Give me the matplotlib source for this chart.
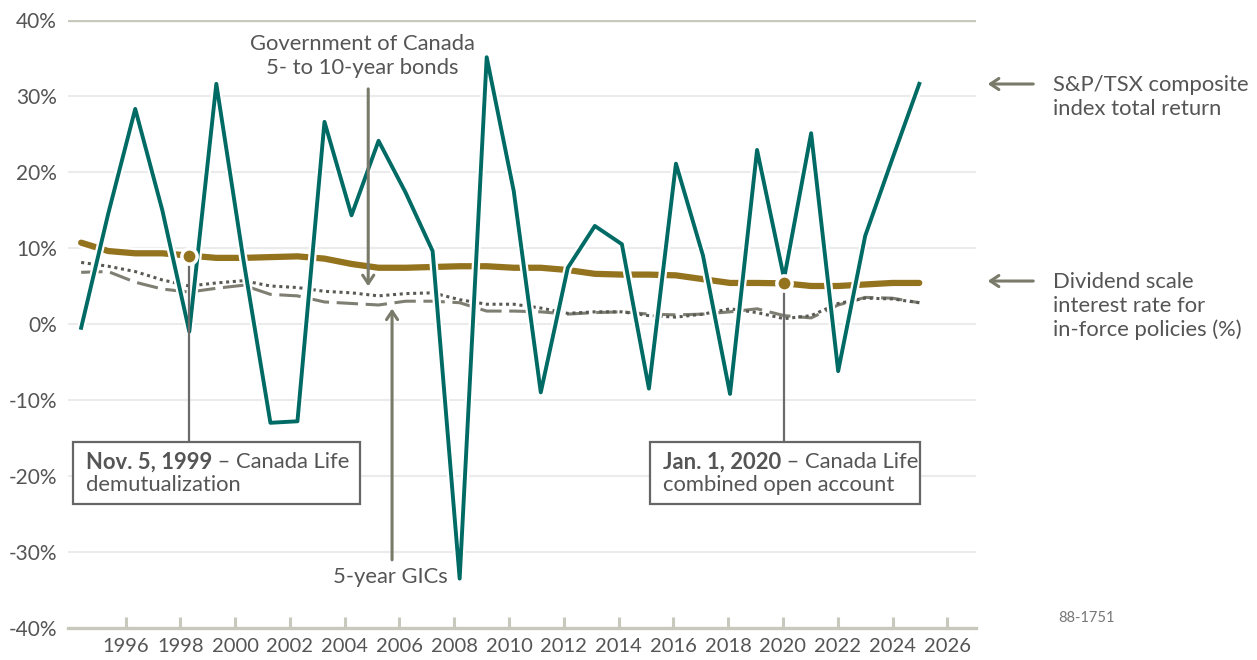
import matplotlib.pyplot as plt
import matplotlib.patheffects as pe
from matplotlib.patches import Rectangle
import numpy as np

years = np.arange(1994, 2026)

tsx_return = [-0.5, 14.5, 28.3, 15.0, -1.0, 31.6, 8.5, -13.0, -12.8, 26.6,
              14.3, 24.1, 17.3, 9.6, -33.5, 35.1, 17.5, -9.0, 7.4, 12.9,
              10.5, -8.5, 21.1, 9.0, -9.2, 22.9, 6.0, 25.1, -6.2, 11.6,
              21.7, 31.6]
dividend_rate = [10.7, 9.6, 9.3, 9.3, 9.0, 8.7, 8.7, 8.8, 8.9, 8.6,
                 7.9, 7.4, 7.4, 7.5, 7.6, 7.6, 7.4, 7.4, 7.1, 6.6,
                 6.5, 6.5, 6.4, 5.9, 5.4, 5.4, 5.35, 5.0, 5.0, 5.2,
                 5.4, 5.4]
bond_yield = [8.1, 7.6, 6.9, 5.8, 5.0, 5.4, 5.7, 5.0, 4.8, 4.3,
              4.1, 3.7, 4.0, 4.1, 3.2, 2.6, 2.6, 2.1, 1.4, 1.6,
              1.6, 1.1, 0.9, 1.3, 2.0, 1.5, 0.7, 1.1, 2.7, 3.4,
              3.3, 2.8]
gic_rate = [6.8, 6.9, 5.5, 4.6, 4.2, 4.7, 5.1, 3.9, 3.7, 2.9,
            2.7, 2.5, 3.0, 3.0, 2.8, 1.7, 1.7, 1.6, 1.3, 1.5,
            1.6, 1.3, 1.2, 1.3, 1.6, 2.0, 1.1, 0.8, 2.5, 3.5,
            3.4, 2.8]

x_ticks = list(range(1996, 2027, 2))
y_ticks = list(range(-40, 41, 10))

# events marked on the dividend line (index into years)
event_idx = [4, 26]

TEAL = '#006a64'
GOLD = '#94731f'
TEXT = '#555555'
ARROW = '#7a7a6a'
AXIS = '#c9c8bd'
GRID = '#ebebeb'
FS = 15.8

plt.rcParams['font.family'] = ['Lato', 'DejaVu Sans']

fig = plt.figure(figsize=(12.57, 6.6), dpi=100)
ax = fig.add_axes([0.0541, 0.0485, 0.7224, 0.9212])

# chart positions of the yearly points
xpos = 1994.38 + 0.987 * (years - 1994)

for y in y_ticks[1:-1]:
    ax.axhline(y, color=GRID, lw=1.5, zorder=0)
ax.axhline(40, color=AXIS, lw=2.4, zorder=0)

white = [pe.Stroke(linewidth=6, foreground='white'), pe.Normal()]

ax.plot(xpos, gic_rate, color='#7f7e72', lw=2.2, dashes=(7, 2.5), zorder=2)
ax.plot(xpos, bond_yield, color='#5a5a55', lw=2.2, dashes=(1, 1.2), zorder=2)
ax.plot(xpos, dividend_rate, color=GOLD, lw=4.5, solid_capstyle='round', zorder=3,
        path_effects=[pe.Stroke(linewidth=8, foreground='white'), pe.Normal()])
ax.plot(xpos, tsx_return, color=TEAL, lw=2.8, zorder=4, path_effects=white)

# event markers and boxes
box_left = [1994.09, 2015.15]
box_width = [10.47, 9.85]
box_top, box_bottom = -15.5, -23.7
bold_txt = ['Nov. 5, 1999', 'Jan. 1, 2020']
rest_txt = [' \u2013 Canada Life', ' \u2013 Canada Life']
line2_txt = ['demutualization', 'combined open account']

for i, k in enumerate(event_idx):
    xe, ye = xpos[k], dividend_rate[k]
    ax.plot([xe, xe], [ye, box_top], color='#6b6b6b', lw=1.6, zorder=5)
    ax.plot(xe, ye, 'o', ms=11, color=GOLD, mec='white', mew=2.5, zorder=6)
    ax.add_patch(Rectangle((box_left[i], box_bottom), box_width[i], box_top - box_bottom,
                           fc='white', ec='#666666', lw=1.6, zorder=5))
    tx = box_left[i] + 0.47
    t = ax.text(tx, -18.2, bold_txt[i], fontsize=FS, fontweight='bold',
                color=TEXT, va='center', ha='left', zorder=6)
    ax.annotate(rest_txt[i], xy=(1, 0.5), xycoords=t, va='center', ha='left',
                fontsize=FS, color=TEXT, zorder=6)
    ax.text(tx, -21.2, line2_txt[i], fontsize=FS, color=TEXT,
            va='center', ha='left', zorder=6)

# series labels inside the plot
arrow_style = dict(arrowstyle='->,head_length=0.6,head_width=0.4', color=ARROW, lw=2.2)
ax.annotate('', xy=(2004.86, 4.6), xytext=(2004.86, 31.3), arrowprops=arrow_style, zorder=5)
ax.text(2004.64, 35.2, 'Government of Canada\n5- to 10-year bonds', fontsize=FS,
        color=TEXT, ha='center', va='center', linespacing=1.25)
ax.annotate('', xy=(2005.73, 2.4), xytext=(2005.73, -31.4), arrowprops=arrow_style, zorder=5)
ax.text(2005.66, -33.3, '5-year GICs', fontsize=FS, color=TEXT,
        ha='center', va='center')

# labels to the right
for ya, yt, label in [(0.8727, 0.8523, 'S&P/TSX composite\nindex total return'),
                      (0.5742, 0.5364, 'Dividend scale\ninterest rate for\nin-force policies (%)')]:
    fig.add_artist(plt.Annotation('', xy=(0.7836, ya), xytext=(0.8242, ya),
                                  xycoords='figure fraction', textcoords='figure fraction',
                                  arrowprops=arrow_style))
    fig.text(0.8377, yt, label, fontsize=FS, color=TEXT, ha='left', va='center',
             linespacing=1.25)

fig.text(0.8417, 0.0636, '88-1751', fontsize=10.5, color='#777777', ha='left', va='center')

ax.set_xlim(1993.9, 2027.05)
ax.set_ylim(-40, 40)
ax.set_xticks(x_ticks)
ax.set_yticks(y_ticks)
ax.set_yticklabels([f'{v}%' for v in y_ticks])
for s in ['top', 'right', 'left']:
    ax.spines[s].set_visible(False)
ax.spines['bottom'].set_color(AXIS)
ax.spines['bottom'].set_linewidth(2.4)
ax.tick_params(axis='x', direction='in', length=8, width=2.2, color=AXIS,
               labelsize=14.5, labelcolor=TEXT, pad=7)
ax.tick_params(axis='y', length=0, labelsize=15, labelcolor=TEXT, pad=8)

plt.savefig('out.png', dpi=100)
